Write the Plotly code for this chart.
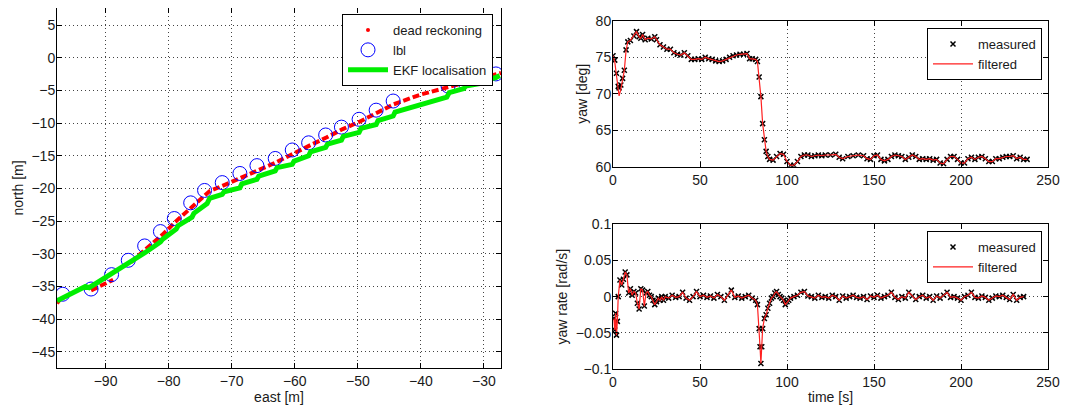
import plotly.graph_objects as go

# ---------------- left panel: trajectory ----------------
lbl_east = [-96.8, -92.3, -89.05, -86.4, -83.8, -81.3, -79.1, -76.5, -74.3, -71.5, -68.7, -66.0,
            -63.1, -60.4, -57.8, -55.1, -52.6, -49.8, -47.1, -44.4, -35.7, -33.2, -30.6, -28.1]
lbl_north = [-36.2, -35.4, -33.2, -31.0, -28.8, -26.6, -24.6, -22.2, -20.3, -19.1, -17.7, -16.5,
             -15.4, -14.1, -13.0, -11.8, -10.6, -9.4, -8.0, -6.6, -4.3, -3.6, -3.06, -2.45]

dr_east = [-97.7, -97.3, None, -92.3, -88.8, None, -86.0, -83.5, -81.0, -78.8, -76.4, -74.0, -73.5,
           -71.0, -68.5, -66.0, -63.2, -60.4, -57.6, -55.0, -52.4, -49.8, -47.0, -44.3, -40.0,
           -35.7, -33.2, -30.6, -27.3]
dr_north = [-37.6, -37.1, None, -35.6, -34.0, None, -31.3, -29.2, -27.1, -25.0, -22.9, -20.8, -20.4,
            -19.4, -18.4, -17.3, -16.1, -14.7, -13.4, -12.2, -10.9, -9.8, -8.5, -7.1, -5.6,
            -4.5, -3.8, -3.1, -2.3]

ekf_east = [-97.7, -95.0, -93.2, -92.6, -89.3, -86.4, -84.0, -83.7, -81.3, -81.0, -78.8, -78.5,
            -76.3, -76.0, -73.9, -73.5, -71.5, -71.2, -68.7, -68.4, -66.0, -65.7, -63.1, -62.8,
            -60.4, -60.1, -57.8, -57.5, -55.1, -54.8, -52.6, -52.3, -49.8, -49.5, -47.1, -46.8,
            -44.4, -44.1, -35.9, -35.5, -33.2, -32.9, -30.6, -30.3, -28.1, -27.5]
ekf_north = [-37.2, -35.9, -35.0, -35.2, -33.2, -31.6, -30.2, -29.8, -28.2, -27.8, -26.2, -25.7,
             -24.4, -23.8, -22.3, -21.5, -20.9, -20.5, -19.9, -19.3, -18.6, -18.1, -17.3, -16.8,
             -16.3, -15.8, -15.0, -14.4, -13.7, -13.2, -12.6, -12.0, -11.4, -10.8, -10.2, -9.6,
             -8.9, -8.3, -6.0, -5.3, -4.7, -4.3, -3.9, -3.5, -3.0, -2.7]

east_ticks = [-90, -80, -70, -60, -50, -40, -30]
north_ticks = [-45, -40, -35, -30, -25, -20, -15, -10, -5, 0, 5]

# ---------------- right panels: yaw and yaw rate ----------------
yaw_t = [0, 1, 2, 3, 3.5, 4.5, 5.5, 6.5, 7.5, 8.5, 10, 12, 13.5, 15, 16, 17, 18.5, 20, 22, 24, 25,
         27, 29, 31, 33, 35, 37, 39, 41, 43, 45, 47, 49, 51, 53, 55, 57, 59, 61, 63, 65, 67, 69,
         71, 73, 75, 77, 78.5, 80, 82, 83, 84, 85, 86, 87, 88, 89, 90, 92, 94, 96, 98, 100, 102,
         104, 106, 108, 110, 112, 114, 116, 118, 120, 122, 125, 128, 130, 132, 135, 138, 141, 144,
         146, 148, 150, 152, 154, 156, 158, 160, 162, 164, 166, 168, 170, 172, 174, 176, 178, 180,
         182, 184, 186, 188, 190, 192, 194, 196, 198, 200, 202, 204, 206, 208, 210, 212, 214, 216,
         218, 220, 222, 224, 226, 228, 230, 232, 234, 236, 238]
yaw_measured = [75.2, 74.6, 72.8, 71.0, 70.8, 71.2, 72.1, 73.2, 76.0, 77.1, 77.3, 77.9, 78.5, 77.8,
                77.6, 78.1, 77.4, 77.6, 77.5, 77.8, 77.4, 76.7, 76.4, 76.1, 76.1, 75.6, 75.4, 75.3,
                75.6, 75.2, 74.7, 74.7, 74.8, 74.7, 75.0, 74.8, 74.7, 74.5, 74.4, 74.5, 74.7, 75.0,
                75.2, 75.3, 75.4, 75.4, 75.5, 74.8, 74.8, 74.7, 74.4, 72.3, 69.6, 65.9, 63.7, 62.1,
                61.4, 61.0, 60.9, 61.4, 61.8, 61.7, 60.7, 60.2, 60.2, 60.7, 61.4, 61.6, 61.6, 61.4,
                61.5, 61.6, 61.5, 61.6, 61.6, 61.7, 61.3, 61.1, 61.4, 61.5, 61.6, 61.5, 61.1, 61.0,
                61.5, 61.6, 61.0, 60.8, 61.0, 61.4, 61.6, 61.5, 61.4, 61.0, 61.3, 61.6, 61.4, 61.0,
                61.1, 61.0, 61.1, 60.9, 61.0, 60.5, 60.4, 61.0, 61.4, 61.4, 61.0, 60.5, 60.5, 61.1,
                61.3, 61.0, 61.3, 61.4, 61.1, 60.7, 60.7, 61.1, 61.1, 61.3, 61.4, 61.4, 61.5, 61.1,
                61.3, 61.0, 61.0]
yaw_filtered = [75.2, 74.4, 72.5, 70.4, 69.7, 70.6, 71.9, 73.2, 75.9, 77.1, 77.3, 77.9, 78.5, 77.8,
                77.6, 78.1, 77.4, 77.6, 77.5, 77.8, 77.4, 76.7, 76.4, 76.1, 76.1, 75.6, 75.4, 75.3,
                75.6, 75.2, 74.7, 74.7, 74.8, 74.7, 75.0, 74.8, 74.7, 74.5, 74.4, 74.5, 74.7, 75.0,
                75.2, 75.3, 75.4, 75.4, 75.5, 74.8, 74.8, 74.7, 74.4, 72.3, 69.6, 65.9, 63.7, 62.1,
                61.4, 61.0, 60.9, 61.4, 61.8, 61.7, 60.7, 60.2, 60.2, 60.7, 61.4, 61.6, 61.6, 61.4,
                61.5, 61.6, 61.5, 61.6, 61.6, 61.7, 61.3, 61.1, 61.4, 61.5, 61.6, 61.5, 61.1, 61.0,
                61.5, 61.6, 61.0, 60.8, 61.0, 61.4, 61.6, 61.5, 61.4, 61.0, 61.3, 61.6, 61.4, 61.0,
                61.1, 61.0, 61.1, 60.9, 61.0, 60.5, 60.4, 61.0, 61.4, 61.4, 61.0, 60.5, 60.5, 61.1,
                61.3, 61.0, 61.3, 61.4, 61.1, 60.7, 60.7, 61.1, 61.1, 61.3, 61.4, 61.4, 61.5, 61.1,
                61.3, 61.0, 61.0]

rate_t = [0.5, 1, 1.5, 2, 2.5, 3, 4, 5, 6, 7, 8, 9, 10, 11, 12, 13, 14, 15, 16, 17, 18, 19, 20,
          21, 22, 23, 24, 25, 26, 27, 28, 29, 30, 32, 34, 36, 38, 40, 42, 44, 46, 48, 50, 52, 54,
          56, 58, 60, 62, 64, 66, 68, 70, 72, 74, 76, 78, 80, 82, 83, 84, 84.5, 85, 85.5, 86, 87,
          88, 89, 90, 91, 92, 93, 94, 95, 96, 97, 98, 99, 100, 101, 102, 104, 106, 108, 110, 112,
          114, 116, 118, 120, 122, 124, 126, 128, 130, 132, 134, 136, 138, 140, 142, 144, 146,
          148, 150, 152, 154, 156, 158, 160, 162, 164, 166, 168, 170, 172, 174, 176, 178, 180,
          182, 184, 186, 188, 190, 192, 194, 196, 198, 200, 202, 204, 206, 208, 210, 212, 214,
          216, 218, 220, 222, 224, 226, 228, 230, 232, 234, 236, 238]
rate_measured = [-0.030, -0.046, -0.023, -0.053, -0.034, 0.000, 0.023, 0.016, 0.024, 0.034, 0.030,
                 0.005, 0.011, 0.002, 0.007, 0.005, -0.009, -0.017, 0.011, 0.009, -0.013, 0.005,
                 0.007, 0.002, 0.000, -0.005, -0.011, -0.007, -0.002, -0.005, 0.000, -0.005, 0.000,
                 -0.002, 0.002, -0.001, 0.000, 0.006, -0.002, -0.005, 0.000, 0.007, 0.000, 0.002,
                 -0.001, 0.001, -0.002, 0.003, 0.000, -0.005, 0.002, 0.009, -0.001, 0.001, -0.002,
                 0.000, 0.002, -0.002, -0.005, -0.011, -0.044, -0.069, -0.092, -0.069, -0.044,
                 -0.030, -0.025, -0.016, -0.009, -0.002, 0.000, 0.005, 0.007, 0.003, 0.000, -0.002,
                 -0.005, -0.011, -0.007, -0.005, -0.002, 0.000, 0.002, 0.006, 0.007, 0.001, 0.000,
                 -0.002, 0.002, -0.001, 0.000, -0.002, 0.002, 0.000, -0.005, 0.001, -0.002, 0.000,
                 0.002, -0.001, -0.002, 0.000, -0.004, 0.001, -0.001, 0.002, -0.002, 0.000, 0.002,
                 0.006, -0.001, -0.004, 0.000, -0.002, 0.006, 0.001, -0.004, 0.000, 0.002, -0.002,
                 0.000, -0.005, 0.001, -0.002, 0.002, 0.006, -0.001, 0.000, -0.002, -0.005, 0.000,
                 0.002, 0.006, -0.001, -0.002, 0.001, -0.001, -0.005, -0.002, 0.001, 0.000, 0.002,
                 -0.001, -0.004, 0.003, -0.005, -0.001, 0.000]
rate_filtered = rate_measured

time_ticks = [0, 50, 100, 150, 200, 250]
yaw_ticks = [60, 65, 70, 75, 80]
rate_ticks = [-0.1, -0.05, 0, 0.05, 0.1]
rate_ticktext = ["\u22120.1", "\u22120.05", "0", "0.05", "0.1"]

# ---------------- figure ----------------
# the page body has an 8 px margin, so the figure is offset by 8 px
OFF = 8
W, H = 1071 - OFF, 412 - OFF
FONT = dict(family="Liberation Sans, Arial, Helvetica, sans-serif", size=14, color="#1a1a1a")
LEGEND_FONT = dict(FONT, size=13)


def px_x(p):
    return min(1.0, max(0.0, (p - OFF) / W))


def px_y(p):
    return min(1.0, max(0.0, 1 - (p - OFF) / H))


fig = go.Figure()

# left panel
fig.add_trace(go.Scatter(x=dr_east, y=dr_north, mode="lines", xaxis="x", yaxis="y",
                         line=dict(color="#ff0000", width=4, dash="7px,3px"),
                         showlegend=False, hoverinfo="skip", legend="legend"))
fig.add_trace(go.Scatter(x=[None], y=[None], mode="markers", name="dead reckoning",
                         xaxis="x", yaxis="y", legend="legend",
                         marker=dict(color="#ff0000", size=4, symbol="circle")))
fig.add_trace(go.Scatter(x=lbl_east, y=lbl_north, mode="markers", name="lbl",
                         xaxis="x", yaxis="y", legend="legend",
                         marker=dict(symbol="circle-open", size=14, color="#0000ff",
                                     line=dict(width=1, color="#0000ff"))))
fig.add_trace(go.Scatter(x=ekf_east, y=ekf_north, mode="lines", name="EKF localisation",
                         xaxis="x", yaxis="y", legend="legend",
                         line=dict(color="#00ee00", width=5)))

# right top
fig.add_trace(go.Scatter(x=yaw_t, y=yaw_measured, mode="markers", name="measured",
                         xaxis="x2", yaxis="y2", legend="legend2",
                         marker=dict(symbol="x-thin", size=5, color="black",
                                     line=dict(width=1.5, color="black"))))
fig.add_trace(go.Scatter(x=yaw_t, y=yaw_filtered, mode="lines", name="filtered",
                         xaxis="x2", yaxis="y2", legend="legend2",
                         line=dict(color="#ff2020", width=1.2)))

# right bottom
fig.add_trace(go.Scatter(x=rate_t, y=rate_measured, mode="markers", name="measured",
                         xaxis="x3", yaxis="y3", legend="legend3",
                         marker=dict(symbol="x-thin", size=5, color="black",
                                     line=dict(width=1.5, color="black"))))
fig.add_trace(go.Scatter(x=rate_t, y=rate_filtered, mode="lines", name="filtered",
                         xaxis="x3", yaxis="y3", legend="legend3",
                         line=dict(color="#ff2020", width=1.2)))

axis_common = dict(showline=True, linecolor="black", linewidth=1, mirror="allticks",
                   ticks="inside", ticklen=5, tickcolor="black", showgrid=True,
                   gridcolor="#444444", griddash="1px,3px", gridwidth=1, zeroline=False,
                   automargin=False, tickfont=FONT, title_font=FONT)
yaxis_extra = dict(ticklabelstandoff=-2)

legend_common = dict(bgcolor="white", bordercolor="black", borderwidth=1, font=LEGEND_FONT,
                     xanchor="right", yanchor="top", itemwidth=40, tracegroupgap=0)

fig.update_layout(
    template="none",
    width=W, height=H, margin=dict(l=0, r=0, t=0, b=0, autoexpand=False),
    paper_bgcolor="white", plot_bgcolor="white", font=FONT,
    xaxis=dict(axis_common, domain=[px_x(57), px_x(501)], range=[-97.7, -27.3],
               tickvals=east_ticks, title=dict(text="east [m]", standoff=3), anchor="y"),
    yaxis=dict(axis_common, **yaxis_extra, domain=[px_y(368), px_y(8)], range=[-47.5, 7.65],
               tickvals=north_ticks, title=dict(text="north [m]", standoff=4), anchor="x"),
    xaxis2=dict(axis_common, domain=[px_x(613), px_x(1048)], range=[0, 250],
                tickvals=time_ticks, anchor="y2"),
    yaxis2=dict(axis_common, **yaxis_extra, domain=[px_y(166.7), px_y(20.7)], range=[60, 80],
                tickvals=yaw_ticks, title=dict(text="yaw [deg]", standoff=4), anchor="x2"),
    xaxis3=dict(axis_common, domain=[px_x(613), px_x(1048)], range=[0, 250],
                tickvals=time_ticks, title=dict(text="time [s]", standoff=3), anchor="y3"),
    yaxis3=dict(axis_common, **yaxis_extra, domain=[px_y(369.3), px_y(224)], range=[-0.1, 0.1],
                tickvals=rate_ticks, ticktext=rate_ticktext,
                title=dict(text="yaw rate [rad/s]", standoff=4), anchor="x3"),
    legend=dict(legend_common, x=px_x(493), y=px_y(14)),
    legend2=dict(legend_common, x=px_x(1042), y=px_y(28)),
    legend3=dict(legend_common, x=px_x(1042), y=px_y(231)),
    showlegend=True,
)

fig.write_html("out.html")
